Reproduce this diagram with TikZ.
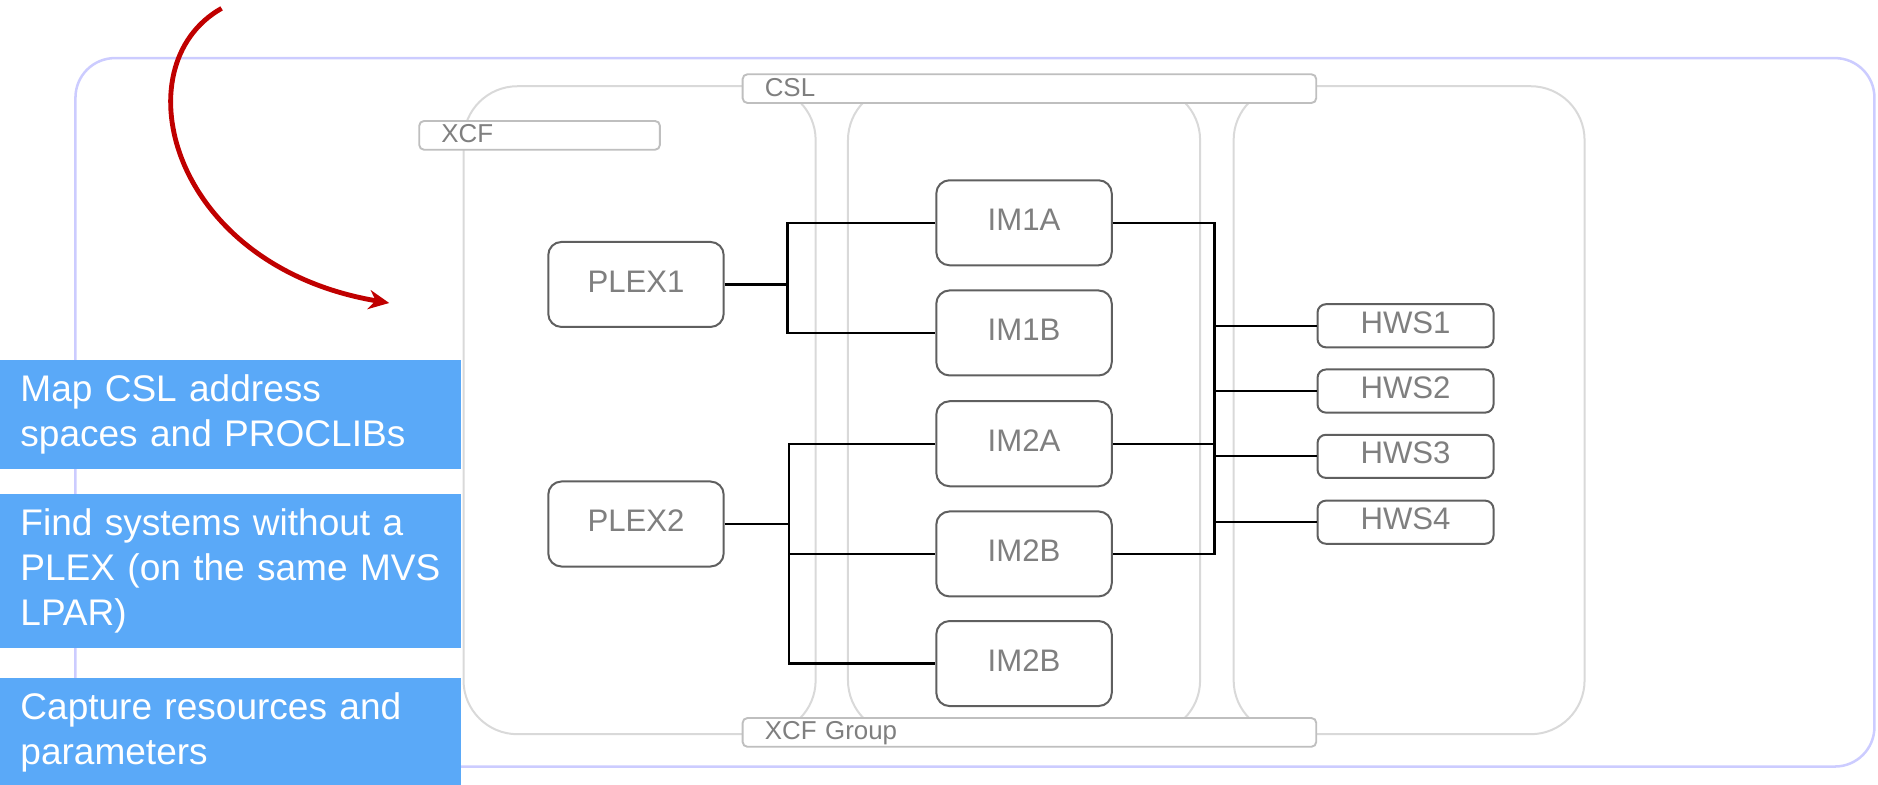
\documentclass[tikz,border=0pt]{standalone}
\usepackage{fontspec}
\setmainfont{Liberation Sans}
\usetikzlibrary{arrows.meta}

\definecolor{boxline}{HTML}{5F5F5F}
\definecolor{boxtext}{HTML}{7F7F7F}
\definecolor{tagline}{HTML}{BFBFBF}
\definecolor{paneline}{HTML}{D9D9D9}
\definecolor{outerline}{HTML}{CCCCFF}
\definecolor{taskblue}{HTML}{5AA9F8}
\definecolor{arrowred}{HTML}{C00000}

\tikzset{
  sysbox/.style={draw=boxline, fill=white, line width=0.95pt, rounded corners=0.22cm,
    minimum width=2.93cm, minimum height=1.42cm, inner sep=0pt, text=boxtext,
    text height=0.72em, text depth=0pt, font=\fontsize{14.8pt}{17pt}\selectfont},
  hwsbox/.style={sysbox, rounded corners=0.14cm, minimum width=2.94cm, minimum height=0.72cm},
  grouptag/.style={draw=tagline, fill=white, line width=0.9pt, rounded corners=0.08cm,
    minimum height=0.48cm, inner xsep=0.37cm, inner ysep=0pt, align=left, text=boxtext,
    text height=0.72em, text depth=0pt, font=\fontsize{12.3pt}{14pt}\selectfont},
  pane/.style={draw=paneline, line width=0.95pt, rounded corners=0.9cm},
  wire/.style={draw=black, line width=1.1pt},
  taskbox/.style={fill=taskblue, text=white, anchor=north west, inner xsep=0.334cm,
    text width=7.032cm, align=left, font=\fontsize{17.6pt}{21.3pt}\selectfont}
}

\begin{document}
\begin{tikzpicture}[x=0.02cm, y=-0.02cm]

  \useasboundingbox (0,0) rectangle (1568,655);

  % outer frame
  \draw[outerline, line width=1.2pt, rounded corners=0.66cm] (63,48.5) rectangle (1565,640);

  % XCF / CSL panes
  \draw[pane] (387,72) rectangle (681,613);
  \draw[pane] (708,72) rectangle (1002,613);
  \draw[pane] (1030,72) rectangle (1323,613);

  \node[grouptag, text width=3.28cm] (xcf) at (450.5,113) {XCF};
  \node[grouptag, text width=8.84cm] (csl) at (859.5,74) {CSL};
  \node[grouptag, text width=8.84cm] (xcfgroup) at (859.5,611.5) {XCF Group};

  % systems
  \node[sysbox] (plex1) at (531,237.5) {PLEX1};
  \node[sysbox] (plex2) at (531,437.5) {PLEX2};

  \node[sysbox] (im1a) at (855,186) {IM1A};
  \node[sysbox] (im1b) at (855,278) {IM1B};
  \node[sysbox] (im2a) at (855,370.5) {IM2A};
  \node[sysbox] (im2b) at (855,462.5) {IM2B};
  \node[sysbox] (im2c) at (855,554) {IM2B};

  \foreach \i/\y in {1/272,2/326.5,3/381,4/436}
    \node[hwsbox] (hws\i) at (1173.5,\y) {HWS\i};

  % wiring
  \coordinate (lbus1) at (657.5,237.5);
  \coordinate (lbus2) at (658.5,437.5);
  \coordinate (rbus) at (1014,300);

  \draw[wire] (plex1.east) -- (lbus1);
  \draw[wire] (im1a.west) -| (lbus1) |- (im1b.west);
  \draw[wire] (plex2.east) -- (lbus2);
  \draw[wire] (im2a.west) -| (lbus2) |- (im2c.west);
  \draw[wire] (lbus2) |- (im2b.west);

  \draw[wire] (im1a.east) -| (rbus |- im2b.east) -- (im2b.east);
  \draw[wire] (im2a.east) -- (rbus |- im2a.east);
  \foreach \i in {1,...,4}
    \draw[wire] (rbus |- hws\i.west) -- (hws\i.west);

  % tasks
  \node[taskbox, minimum height=1.82cm] (task1) at (0,300) {Map CSL address\\spaces and PROCLIBs};
  \node[taskbox, minimum height=2.58cm] (task2) at (0,412) {Find systems without a\\PLEX (on the same MVS\\LPAR)};
  \node[taskbox, minimum height=1.82cm] (task3) at (0,566) {Capture resources and\\parameters};

  % red arrow
  \coordinate (arrowtail) at (185,7);
  \coordinate (arrowhead) at (325,253);
  \draw[arrowred, line width=2.3pt, -{Stealth[length=0.34cm, width=0.32cm]}]
    (arrowtail) .. controls (100,55) and (142,222) .. (arrowhead);

\end{tikzpicture}
\end{document}
